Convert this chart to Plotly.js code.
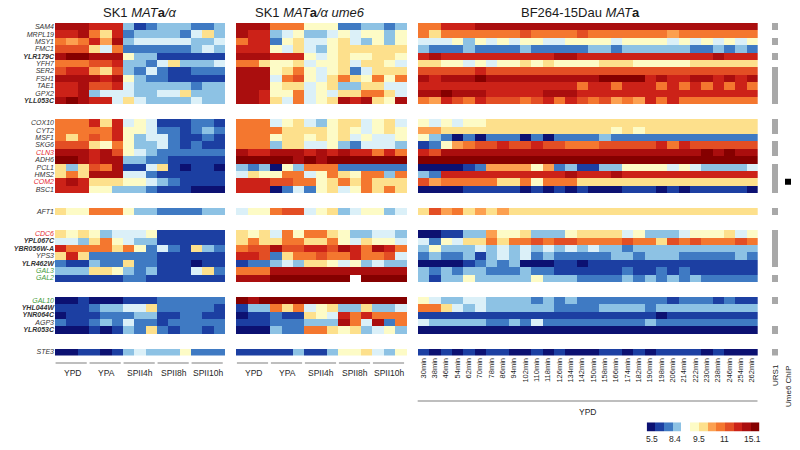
<!DOCTYPE html>
<html>
<head>
<meta charset="utf-8">
<script src="https://cdn.plot.ly/plotly-3.0.1.min.js"></script>
<style>html,body{margin:0;padding:0;background:#fff;}#chart{width:800px;height:450px;}</style>
</head>
<body>
<div id="chart"></div>
<script>
// ---------------- DATA ----------------
const genes = ["SAM4","MRPL19","MSY1","FMC1","YLR179C","YFH7","SER2","FSH1","TAE1","GPX2","YLL053C",
  "COX10","CYT2","MSF1","SKG6","CLN3","ADH6","PCL1","HMS2","COM2","BSC1",
  "AFT1",
  "CDC6","YPL067C","YBR056W-A","YPS3","YLR462W","GAL3","GAL2",
  "GAL10","YHL044W","YNR064C","AGP3","YLR053C",
  "STE3"];
const groupSizes = [11, 10, 1, 7, 5, 1];
const boldGenes = ["YLR179C","YLL053C","YPL067C","YBR056W-A","YLR462W","YHL044W","YNR064C","YLR053C"];
const redGenes = ["CLN3","COM2","CDC6"];
const greenGenes = ["GAL3","GAL2","GAL10"];
const urs1Genes = ["SAM4","MSY1","YLR179C","SER2","FSH1","TAE1","GPX2","YLL053C","COX10","CYT2","SKG6","CLN3",
  "PCL1","HMS2","COM2","BSC1","AFT1","CDC6","YPL067C","YBR056W-A","YPS3","YLR462W","GAL2","GAL10","YLR053C","STE3"];
const chipGenes = ["COM2"];
const conditions = ["YPD","YPA","SPII4h","SPII8h","SPII10h"];
const timepoints = ["30min","38min","46min","54min","62min","70min","78min","86min","94min","102min",
  "110min","118min","126min","134min","142min","150min","158min","166min","174min","182min",
  "190min","198min","206min","214min","222min","230min","238min","246min","254min","262min"];
const panelTitles = ["SK1 <i>MAT</i><b>a</b><i>/α</i>", "SK1 <i>MAT</i><b>a</b><i>/α ume6</i>", "BF264-15Dau <i>MAT</i><b>a</b>"];
// expression level codes (a = lowest ... m = highest), '-' = missing
const levelCodes = "abcdefghijklm";
const legendLevels = [0,1,2,3,null,5,6,7,8,9,10,11,12];
const legendTicks = ["5.5","8.4","9.5","11","15.1"];

// SK1 MATa/alpha: YPD, YPA, SPII4h, SPII8h, SPII10h (3 columns each)
const sk1 = [
  "lllkkkdbcdddccd","kkligkcddddcegd","ihikhldeeeeedde","jjjgeiccccccded","lmmlllfddbbbbbb",
  "iiijjkddcegddde","jkkhgjdcecbbccc","llllklfdccbbbbb","kkljjkedddddcdd","kkldeeeddeegddd","lmlkkegeddddedd",
  "iiikgkefebbbccb","iiiiikffeccbcdc","igijikfdeecbbcb","jjjgfifddecbcbb","lllkljfedcccccc",
  "mmlkllddccbbbbb","gdgjilbbegbabba","gigllleecbbbbbb","klkgggffedcbbbb","kkkffdddcbbbaaa",
  "gffiiifddccccdd",
  "gfgfdeeefbbbbbb","eedgifeddbbbbbb","kiiiigifcecbgdc","gkgccccccbbbbbb","cbbdccgccbbbabb","dddggfdcdbbbegc","bbbbbbccbbbbbbb",
  "aabaaabbbcccccc","bbbcddeegcccccb","abbbcccddbbccbb","cbbcdceccbccccc","aaababdcgcbccbc",
  "aabbabdedddfccc"
];
// SK1 MATa/alpha ume6
const sk1ume6 = [
  "llliiifffccddcd","lkkdefddefeffdf","ikkcfgeefgedfdf","kkkfegedfgggggg","lllkkkfefgffggf",
  "iigffgeffgeggfe","lllfgifefgceggg","llleijfegigfifi","lllfggefgddggee","llkffiefeggiige","llkgeiefglklgfl",
  "iiiefgedfggefge","iiiiggggfgfefgf","iiifggfgfgefeef","iiidggeefdceeed","lkklllklklkkiki",
  "mmmmmlmlmmmmmmm","dcdafdiiicccccc","egffiiefigfiidi","kkkjjiifgigiggg","kkkacecfgefigig",
  "effijjefgdeffde",
  "gfgeifiigfddeed","giggiiggifegffe","ijjljjkkjlkilki","kkjcgiijiikiije","bccdedggfefdedd","iiillllllllllll","lllmmmmmmm-mmmm",
  "mlmmmmmmmmmmmmm","bddigiefgddgdde","abbcbbgfekikiii","bbbcccdddlielci","aaadcciigfgdefd",
  "bbbbbdbbdffgedf"
];
// BF264-15Dau MATa time course in YPD (30 time points)
const bf264 = [
  "iikkklllllllllll"+"llllllllllllll",
  "igiiiiiiijiiiiji"+"iiiiiihiiiiiii",
  "eeefdfefeffeefff"+"feffffefefefef",
  "dcccdccccdcccccd"+"dcddddddccdcdc",
  "klkkkkkkkkkkllkk"+"kkkkkkkkkklkkk",
  "ggffefeffgfgffff"+"gggfffffgggggg",
  "jjjjjkjjjjjjjjjj"+"jjjjjjjjjjjjjj",
  "lklllmllllllllll"+"mmmmklkkllklkl",
  "kkkkkkkkkkkkkkik"+"kikkkikikikiki",
  "llmlllkkkkklllkk"+"kkkkkkkkkkkkkk",
  "ihkjikjjjijkikji"+"jhihkikiiiiiii",
  "fefeffgggggggggg"+"gggggggggggggg",
  "hhgggggggggggggg"+"gfgfgggggggggg",
  "fdcacacccacacccc"+"dccccccccccccc",
  "bcfhijjkjjkjjiii"+"jjjjjkikjjjjjj",
  "kjllllllllllllll"+"lllllllllmlmll",
  "mmmmmmmmmmmmmmmm"+"mmmmmmmmmmmmmm",
  "aaaabchhhhfhcdbb"+"ddffffefedddde",
  "dckkkkkkkkkkklkk"+"klkkkkkkkkkkkk",
  "jhiiiiiggifiiigg"+"gggggggggggggg",
  "aaaabbbbbabababa"+"aabbbababbbbba",
  "gjhighghgggggggg"+"gggggggggggggg",
  "aabbddhffgdddfgg"+"ggefdddefffgef",
  "ecfeggigiijijjii"+"iijiigjijiiiji",
  "dfdddededededede"+"ddcddddddddddd",
  "cdccdbdedecdcccc"+"cddcdddcccccdc",
  "aaaabcdcdaaabbab"+"bbbbbbbbbbbbbb",
  "dcdcddcccdccbbbb"+"bbcbbcbcbbbbbb",
  "dbddfdddddfdddcc"+"ccdcdcdcdccccc",
  "feddeeddddcdcdcc"+"ccccccbcccbcbb",
  "iigededdddddcccc"+"ddddcddddddddd",
  "bbbbbbbbbbbbbbbb"+"bbbbbabbbbbbbb",
  "edddddccdceccccc"+"ccccdccccccccc",
  "aaaaaaaaaaaaaaaa"+"aaaaaaaaaaaaaa",
  "babababbaababaaa"+"bbababbbbabaaa"
];

// ---------------- STYLE / LAYOUT ----------------
const W = 800, H = 450;
const FONT = "Liberation Sans, Arial, Helvetica, sans-serif";
const TXT = "#262626";
const palette = ['#0c1172','#1c3fa2','#3f7ac3','#8dc2e4','#dbf0f8','#fdfbc6','#fde08c',
                 '#fca050','#f4772f','#e34e24','#cc2218','#aa0e0e','#850000'];
const nL = palette.length;
const colorscale = [];
palette.forEach((c,i)=>{ colorscale.push([i/nL, c]); colorscale.push([(i+1)/nL, c]); });

const GAP_ROWS = 2;
const rowPos = [];
let r = 0;
groupSizes.forEach((s, k) => {
  for (let i = 0; i < s; i++) { rowPos.push(r); r++; }
  if (k < groupSizes.length - 1) r += GAP_ROWS;
});
const nRows = r;
const panels = [sk1, sk1ume6, bf264];
const panelWidths = [15, 15, 30];
const colStart = [0, 16, 32];
const nCols = 62;

const z = [];
for (let i = 0; i < nRows; i++) z.push(new Array(nCols).fill(null));
genes.forEach((g, gi2) => {
  const rr = rowPos[gi2];
  panels.forEach((p, pi) => {
    const s = p[gi2] || "";
    for (let j = 0; j < panelWidths[pi] && j < s.length; j++) {
      const lv = levelCodes.indexOf(s[j]);
      if (lv >= 0) z[rr][colStart[pi] + j] = lv;
    }
  });
});

function geneLabel(g) {
  let t = '<i>' + g + '</i>';
  if (boldGenes.includes(g)) t = '<b>' + t + '</b>';
  if (redGenes.includes(g)) t = '<span style="color:#e5262d">' + t + '</span>';
  if (greenGenes.includes(g)) t = '<span style="color:#3f9b3a">' + t + '</span>';
  return t;
}

const xs = [...Array(nCols).keys()];
const ys = [...Array(nRows).keys()];

const traces = [];
traces.push({type:'heatmap', x: xs, y: ys, z: z, zmin: -0.5, zmax: nL - 0.5,
  colorscale: colorscale, showscale: false, hoverinfo: 'skip', xaxis: 'x', yaxis: 'y'});

// URS1 column
const ursZ = ys.map(() => [null]);
genes.forEach((g, i) => { if (urs1Genes.includes(g)) ursZ[rowPos[i]][0] = 1; });
traces.push({type:'heatmap', x:[0], y: ys, z: ursZ, zmin:0, zmax:1,
  colorscale: [[0,'#a8a8a8'],[1,'#a8a8a8']], showscale:false, hoverinfo:'skip', xaxis:'x2', yaxis:'y'});

// Ume6 ChIP
traces.push({type:'scatter', mode:'markers', x: chipGenes.map(()=>0),
  y: chipGenes.map(g => rowPos[genes.indexOf(g)]),
  marker:{symbol:'square', size:6, color:'#000'}, hoverinfo:'skip', xaxis:'x3', yaxis:'y'});

// colour key
traces.push({type:'heatmap', x: legendLevels.map((_,i)=>i), y:[0], z:[legendLevels], zmin:-0.5, zmax:nL-0.5,
  colorscale: colorscale, showscale:false, hoverinfo:'skip', xaxis:'x4', yaxis:'y2'});

const px = v => v / W;
const py = v => 1 - v / H;
const hidden = {visible:false, showgrid:false, zeroline:false, fixedrange:true};

const annotations = [];
const shapes = [];
const titleX = [140, 310, 580];
panelTitles.forEach((t, i) => annotations.push({text: t, xref:'paper', yref:'paper', x: px(titleX[i]), y: py(13),
  xanchor:'center', yanchor:'middle', showarrow:false, font:{family:FONT, size:13, color:'#1a1a1a'}}));

[0, 1].forEach(pi => {
  conditions.forEach((c, k) => {
    const start = colStart[pi] + 3 * k;
    shapes.push({type:'line', xref:'x', yref:'paper', x0: start - 0.45, x1: start + 2.3, y0: py(363), y1: py(363),
      line:{color:'#a8a8a8', width:1.5}});
    annotations.push({text: c, xref:'x', yref:'paper', x: start + 1, y: py(373), xanchor:'center', yanchor:'middle',
      showarrow:false, font:{family:FONT, size:8.5, color:TXT}});
  });
});
shapes.push({type:'line', xref:'x', yref:'paper', x0: colStart[2] - 0.5, x1: colStart[2] + 29.5, y0: py(401), y1: py(401),
  line:{color:'#a8a8a8', width:1.5}});
annotations.push({text:'YPD', xref:'x', yref:'paper', x: colStart[2] + 14.5, y: py(412), xanchor:'center', yanchor:'middle',
  showarrow:false, font:{family:FONT, size:8.5, color:TXT}});
annotations.push({text:'URS1', xref:'paper', yref:'paper', x: px(775), y: py(375), textangle:-90,
  xanchor:'center', yanchor:'middle', showarrow:false, font:{family:FONT, size:8, color:TXT}});
annotations.push({text:'Ume6 ChIP', xref:'paper', yref:'paper', x: px(788), y: py(387), textangle:-90,
  xanchor:'center', yanchor:'middle', showarrow:false, font:{family:FONT, size:8, color:TXT}});
const legendTickX = [652, 675, 698.7, 724, 752];
legendTicks.forEach((t, i) => annotations.push({text: t, xref:'paper', yref:'paper', x: px(legendTickX[i]), y: py(438.5),
  xanchor:'center', yanchor:'middle', showarrow:false, font:{family:FONT, size:8.5, color:TXT}}));

const layout = {
  width: W, height: H, margin:{l:0, r:0, t:0, b:0}, paper_bgcolor:'#fff', plot_bgcolor:'rgba(0,0,0,0)',
  showlegend:false, font:{family:FONT, color:TXT},
  xaxis:{domain:[px(55), px(757.7)], range:[-0.5, nCols - 0.5], showgrid:false, zeroline:false, showline:false,
    ticks:'', tickvals: timepoints.map((_, i) => colStart[2] + i), ticktext: timepoints, tickangle:-90,
    tickfont:{family:FONT, size:7.5, color:TXT}, fixedrange:true},
  yaxis:{domain:[py(355.5), py(23)], range:[nRows - 0.5, -0.5], showgrid:false, zeroline:false, showline:false,
    ticks:'', tickvals: rowPos, ticktext: genes.map(geneLabel), tickfont:{family:FONT, size:7, color:'#333'},
    fixedrange:true},
  xaxis2: Object.assign({domain:[px(772), px(778.3)], range:[-0.5, 0.5], anchor:'y'}, hidden),
  xaxis3: Object.assign({domain:[px(783), px(793)], range:[-0.5, 0.5], anchor:'y'}, hidden),
  xaxis4: Object.assign({domain:[px(646.7), px(759.3)], range:[-0.5, legendLevels.length - 0.5], anchor:'y2'}, hidden),
  yaxis2: Object.assign({domain:[py(431.7), py(422.3)], range:[-0.5, 0.5], anchor:'x4'}, hidden),
  annotations: annotations, shapes: shapes
};

Plotly.newPlot('chart', traces, layout, {displayModeBar:false, staticPlot:true});
</script>
</body>
</html>
